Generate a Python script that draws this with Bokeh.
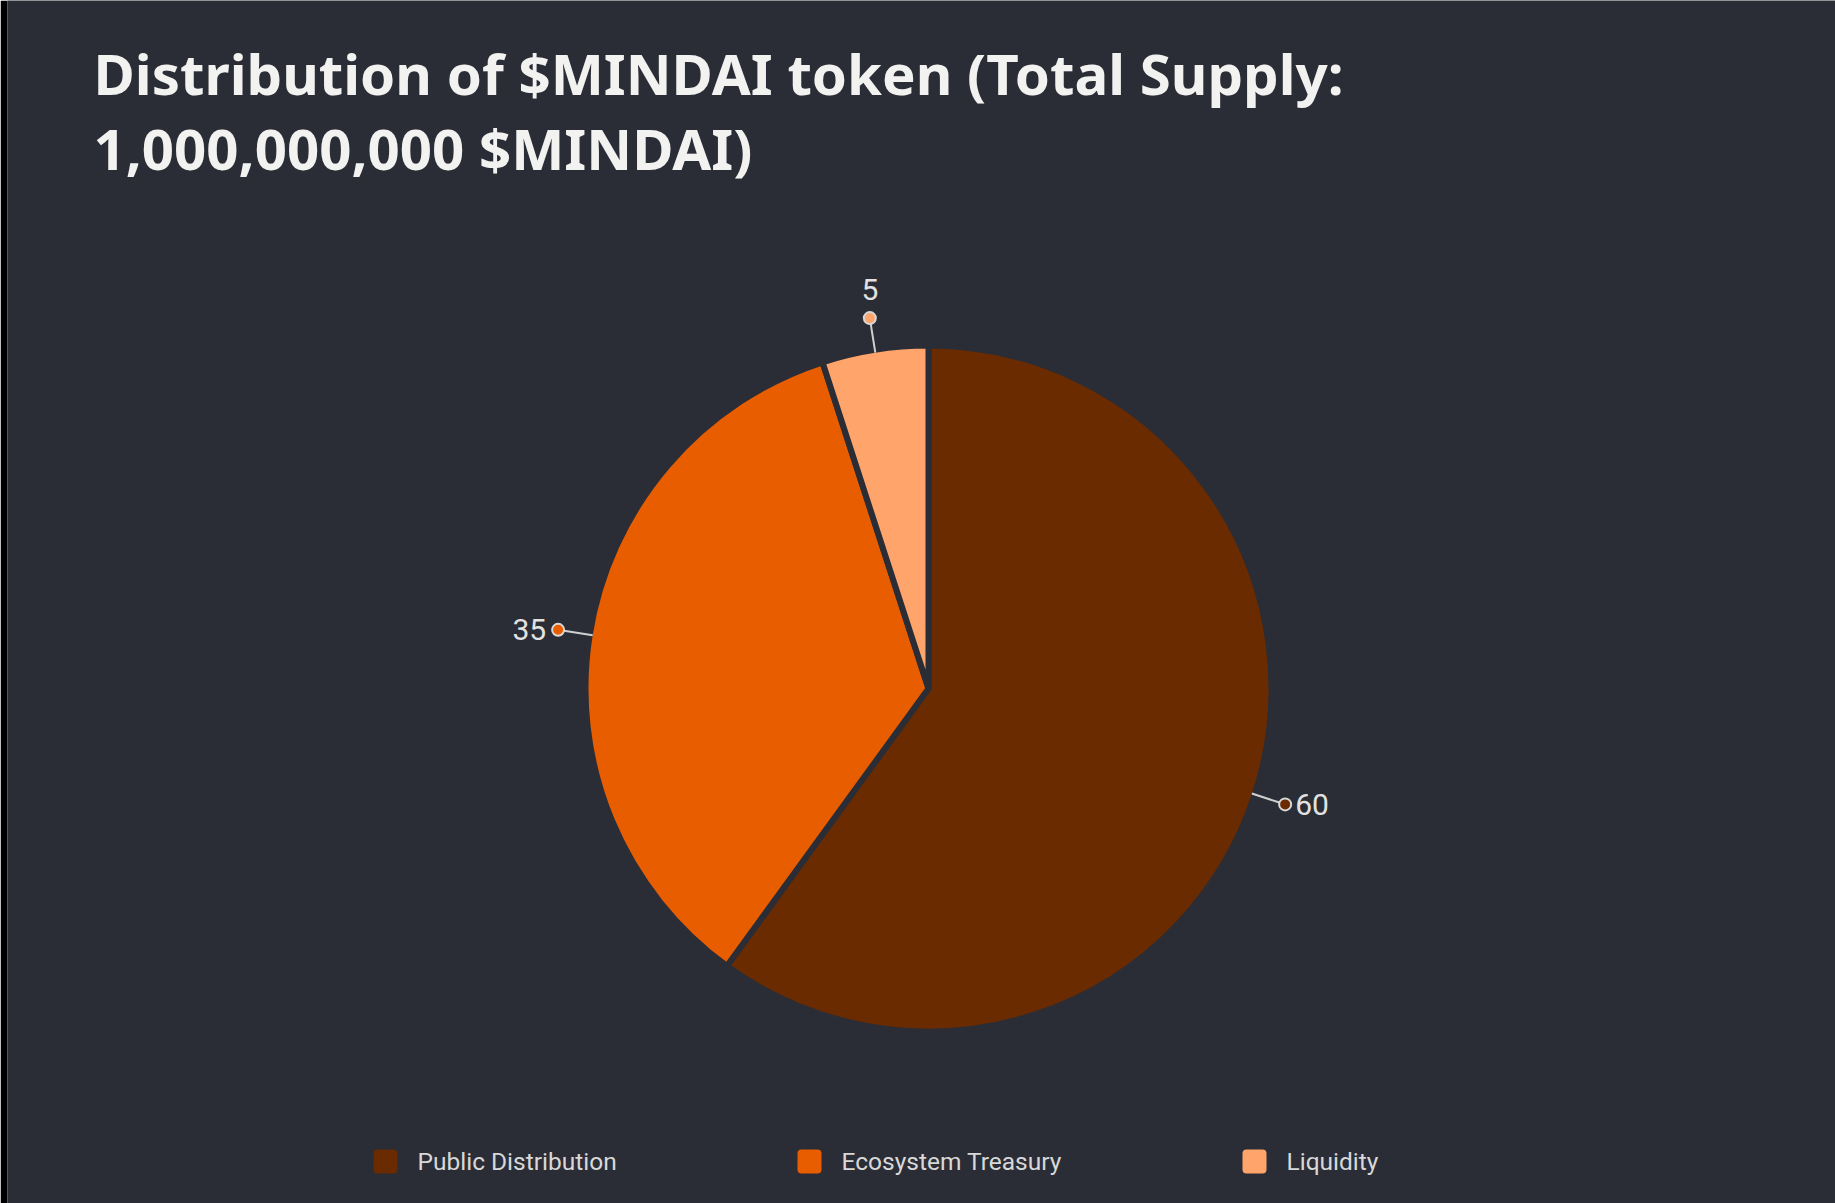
import math
from bokeh.plotting import figure
from bokeh.models import Range1d, Label, ColumnDataSource
from bokeh.core.properties import value
from bokeh.embed import file_html
from bokeh.resources import INLINE

# ---- data ----
categories = ["Public Distribution", "Ecosystem Treasury", "Liquidity"]
shares = [60, 35, 5]
colors = ["#6a2b00", "#e85d00", "#ffa46b"]
title_lines = ["Distribution of $MINDAI token (Total Supply:", "1,000,000,000 $MINDAI)"]

# ---- layout ----
W, H = 1835, 1203
STRIP = 7
BG = "#2a2d35"
CX, CY_PIX, R = 928, 688, 343
legend_x = [385, 809, 1254]
legend_y_pix = 1161


def Y(ypix):
    return H - ypix


p = figure(width=W, height=H, output_backend="svg", toolbar_location=None,
           x_range=Range1d(STRIP, W), y_range=Range1d(0, H),
           min_border_left=STRIP, min_border_right=0, min_border_top=0, min_border_bottom=0,
           border_fill_color="#000000", background_fill_color=BG, outline_line_color=None)
p.axis.visible = False
p.grid.visible = False

total = sum(shares)
starts, ends, mids = [], [], []
cum = 0
for s in shares:
    a0 = math.pi / 2 - 2 * math.pi * cum / total
    a1 = math.pi / 2 - 2 * math.pi * (cum + s) / total
    starts.append(a0)
    ends.append(a1)
    mids.append((a0 + a1) / 2)
    cum += s

src = ColumnDataSource(dict(start=starts, end=ends, color=colors, cat=categories, v=shares))
p.wedge(x=CX, y=Y(CY_PIX), radius=R, start_angle="start", end_angle="end", direction="clock",
        fill_color="color", line_color=BG, line_width=6, source=src)

# connectors + dots + labels
r_edge = R - 3
r_line_end = 369
r_dot = 375
for m, s, c in zip(mids, shares, colors):
    ca, sa = math.cos(m), math.sin(m)
    x0, y0 = CX + r_edge * ca, Y(CY_PIX) + r_edge * sa
    x1, y1 = CX + r_line_end * ca, Y(CY_PIX) + r_line_end * sa
    p.line([x0, x1], [y0, y1], line_color="#d0d0d0", line_width=2)
    xd, yd = CX + r_dot * ca, Y(CY_PIX) + r_dot * sa
    p.scatter([xd], [yd], size=12, fill_color=c, line_color="#d8d8d8", line_width=2)
    if abs(ca) > 0.5:
        align = "left" if ca > 0 else "right"
        tx = xd + (10 if ca > 0 else -12)
        ty = yd
        base = "middle"
    else:
        align = "center"
        tx = xd
        ty = yd + (18 if sa > 0 else -18)
        base = "bottom" if sa > 0 else "top"
    p.text([tx], [ty], text=[str(s)], text_align=align, text_baseline=base,
           text_font=value("Roboto"), text_font_size="30px", text_color="#e2e2e2")

# title
for i, line in enumerate(title_lines):
    p.add_layout(Label(x=93, y=Y(73 + 75 * i), text=line, text_font="Noto Sans",
                       text_font_style="bold", text_font_size="56.4px", text_color="#f2f2f0",
                       text_baseline="alphabetic"))

# legend
p.rect(x=legend_x, y=[Y(legend_y_pix)] * 3, width=24, height=24, fill_color=colors,
       line_color=None, border_radius=4)
p.text(x=[lx + 32 for lx in legend_x], y=[Y(legend_y_pix)] * 3, text=categories,
       text_align="left", text_baseline="middle", text_font=value("Roboto"),
       text_font_size="24.5px", text_color="#d8d8d8")

open("out.html", "w").write(file_html(p, INLINE))
